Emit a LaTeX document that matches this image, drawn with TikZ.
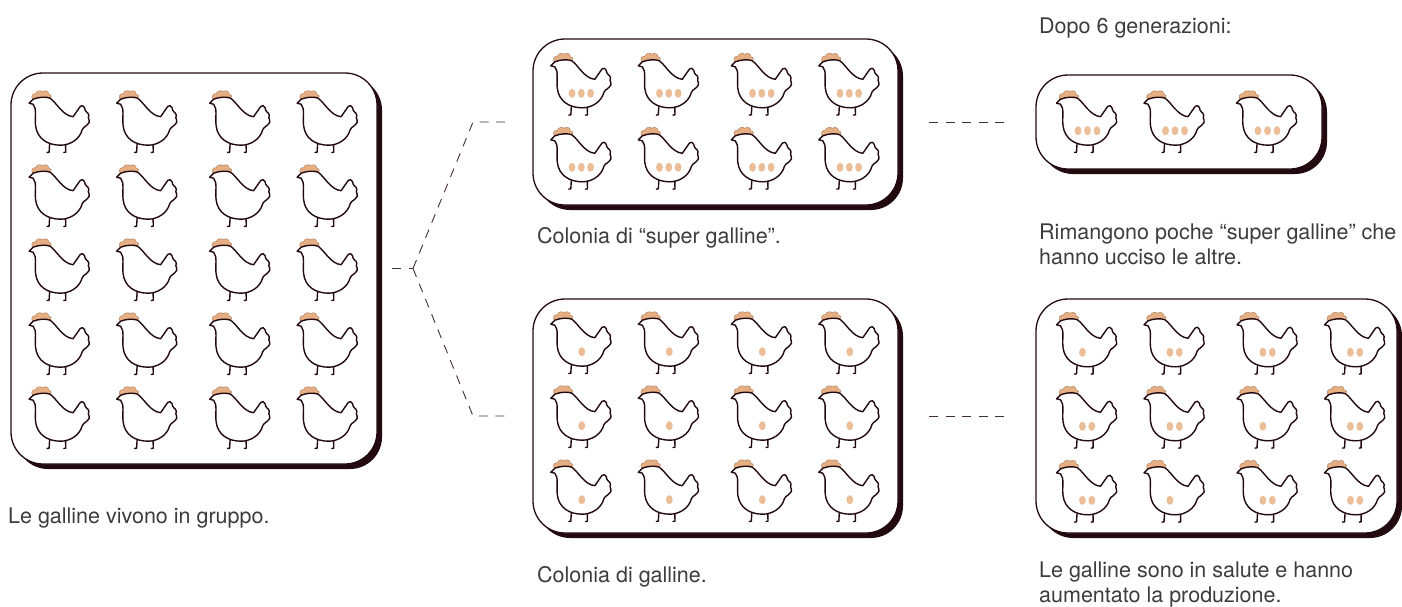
\documentclass[tikz,border=0pt]{standalone}
\usepackage{fontspec}
\setmainfont{TeX Gyre Heros}
\usetikzlibrary{shadows}

\definecolor{ink}{HTML}{220A10}
\definecolor{combcol}{HTML}{E6AF83}
\definecolor{eggcol}{HTML}{EBBE98}
\definecolor{txt}{HTML}{3C3C3C}

\tikzset{
  colony/.style={draw=ink, line width=1.3pt, fill=white, rounded corners=32pt,
    inner sep=0pt, outer sep=0pt,
    drop shadow={shadow xshift=5pt, shadow yshift=-5pt, fill=ink, opacity=1}},
  caption/.style={anchor=base west, inner sep=0pt, align=left, text=txt,
    font=\fontsize{21.5}{25}\selectfont},
  link/.style={draw=ink!85, line width=0.9pt, dash pattern=on 9pt off 7.5pt},
  henline/.style={draw=ink, line width=1.4pt, line join=round},
  pics/hen/.style={code={
    % comb
    \filldraw[fill=combcol, draw=combcol!75!ink, line width=0.5pt]
      (-27,-23.5) .. controls (-29,-26.5) and (-27,-29.5) .. (-24,-29)
      .. controls (-23,-32) and (-19,-33) .. (-17,-31)
      .. controls (-14.5,-33) and (-10.5,-31.5) .. (-11,-28.5)
      .. controls (-8,-28) and (-7.5,-25.5) .. (-9.5,-24.5)
      .. controls (-13,-26) and (-20,-26) .. cycle;
    % body
    \draw[henline, fill=white] (-30.5,-19.5) -- (-26.5,-23.5)
      .. controls (-20,-26) and (-13,-26) .. (-9.5,-24.5)
      .. controls (-3,-20) and (3,-7) .. (13.5,-6)
      [rounded corners=1.5pt] -- (21.5,-17.5) -- (24.5,-16.5) -- (26,-11) -- (29.5,-9)
      -- (28.5,-3.5) -- (30.5,-1.5) -- (27,3) -- (23,5.5) [sharp corners]
      .. controls (20,17) and (10,22.5) .. (1,22.5)
      .. controls (-12,22.5) and (-22.5,16) .. (-24,3)
      .. controls (-25,-6) and (-22.5,-14) .. (-26.5,-18.5)
      -- cycle;
    % legs
    \draw[henline, line cap=round] (-10,21.5) -- (-10.5,29.5) -- (-12.5,29.8);
    \draw[henline, line cap=round] (6,22) -- (6.2,29.5) -- (4.2,29.8);
  }},
  pics/eggs/.style={code={
    \foreach \e in {#1} \fill[eggcol] (\e,8) ellipse (3.4 and 4.5);
  }}
}

\begin{document}
\begin{tikzpicture}[x=1pt, y=-1pt]
\useasboundingbox (0,0) rectangle (1402,606);

% Boxes
\node[colony, minimum width=366pt, minimum height=391pt] (boxA) at (194,268.5) {};
\node[colony, minimum width=365pt, minimum height=166pt] (boxB) at (715.5,122) {};
\node[colony, minimum width=365pt, minimum height=234pt] (boxC) at (715.5,416) {};
\node[colony, minimum width=286pt, minimum height=94pt] (boxE) at (1179,122) {};
\node[colony, minimum width=361pt, minimum height=234pt] (boxD) at (1216.5,416) {};

% Hens, starting group
\foreach \dx in {0,87.5,180.5,268}
  \foreach \r in {0,...,4}
    \pic at ({59.6+\dx},{122.7+74*\r}) {hen};

% Super hens
\foreach \dx in {0,87.5,180.5,268}
  \foreach \r in {0,1} {
    \pic at ({581.3+\dx},{85.3+74*\r}) {hen};
    \pic at ({581.3+\dx},{85.3+74*\r}) {eggs={-9.3,0,9.3}};
  }

% Normal colony
\foreach \dx in {0,87.5,180.5,268}
  \foreach \r in {0,1,2} {
    \pic at ({581.3+\dx},{343.7+74*\r}) {hen};
    \pic at ({581.3+\dx},{343.7+74*\r}) {eggs={0.5}};
  }

% Survivors
\foreach \dx in {0,87.5,180} {
  \pic at ({1087+\dx},122.7) {hen};
  \pic at ({1087+\dx},122.7) {eggs={-9,0.5,10}};
}

% Healthy colony
\foreach \dx/\r/\n in {0/0/1, 87.5/0/2, 180.5/0/2, 268/0/2,
                       0/1/2, 87.5/1/2, 180.5/1/1, 268/1/2,
                       0/2/2, 87.5/2/1, 180.5/2/2, 268/2/2} {
  \pic at ({1087+\dx},{344.3+74*\r}) {hen};
  \ifnum\n=1
    \pic at ({1087+\dx},{344.3+74*\r}) {eggs={-4.6}};
  \else
    \pic at ({1087+\dx},{344.3+74*\r}) {eggs={-4.6,4.8}};
  \fi
}

% Dashed links
\coordinate (split) at ([xshift=36pt]boxA.east);
\draw[link] ([xshift=15pt]boxA.east) -- (split);
\draw[link] (split) -- ([xshift=-60pt]boxB.west) -- ([xshift=-26pt]boxB.west);
\draw[link] (split) -- ([xshift=-60pt]boxC.west) -- ([xshift=-26pt]boxC.west);
\draw[link] ([xshift=31pt]boxB.east) -- ([xshift=-26pt]boxE.west);
\draw[link] ([xshift=31pt]boxC.east) -- ([xshift=-26pt]boxD.west);

% Captions (two-line ones sit on their last baseline)
\node[caption] (capA) at (8,523) {Le galline vivono in gruppo.};
\node[caption] (capB) at (537,243) {Colonia di “super galline”.};
\node[caption] (capC) at (537,582) {Colonia di galline.};
\node[caption] (capTop) at (1039,33) {Dopo 6 generazioni:};
\node[caption] (capE) at (1039,264) {Rimangono poche “super galline” che\\hanno ucciso le altre.};
\node[caption] (capD) at (1039,602) {Le galline sono in salute e hanno\\aumentato la produzione.};
\end{tikzpicture}
\end{document}
